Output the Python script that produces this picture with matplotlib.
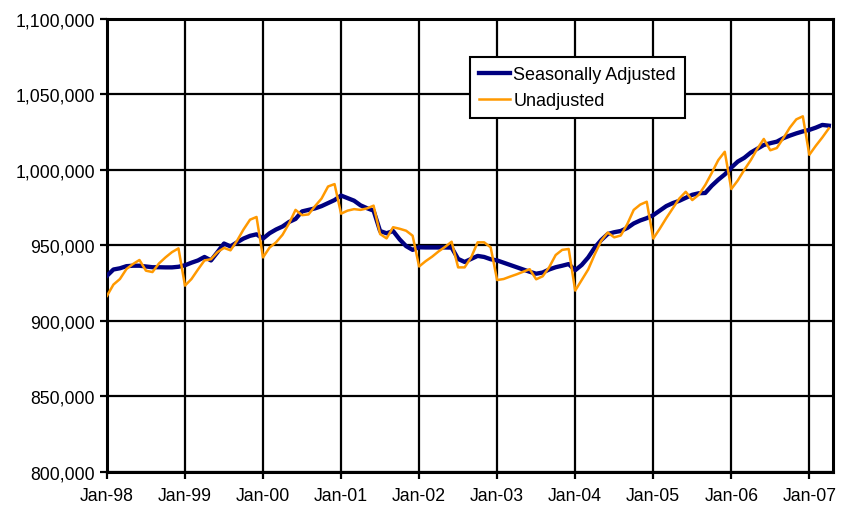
import numpy as np
import pandas as pd
import matplotlib
matplotlib.use('Agg')
import matplotlib.pyplot as plt
from matplotlib.ticker import FuncFormatter

plt.rcParams['font.family'] = ['Liberation Sans', 'DejaVu Sans']

# monthly values, Jan-98 .. Apr-07 (thousands)
seasonally_adjusted = [
    929.8, 934.0, 934.8, 936.2, 936.5, 936.5, 936.0, 935.5, 935.5, 935.4, 935.4, 935.8,
    936.8, 938.5, 940.0, 942.3, 940.0, 945.5, 951.2, 949.3, 952.0, 954.5, 956.3, 957.3,
    954.5, 958.0, 960.5, 962.5, 965.5, 967.5, 972.5, 973.5, 974.5, 976.0, 978.0, 980.0,
    983.0, 981.3, 979.6, 976.5, 974.6, 973.0, 959.5, 958.0, 959.5, 954.0, 949.5, 947.0,
    948.7, 948.6, 948.6, 948.6, 948.6, 948.5, 941.0, 939.0, 941.0, 943.0, 942.3, 940.8,
    940.0, 938.5, 937.0, 935.5, 934.0, 932.5, 931.2, 932.0, 934.0, 935.5, 936.5, 937.6,
    933.5, 937.0, 942.0, 948.5, 953.5, 957.5, 958.7, 959.5, 961.5, 964.5, 966.5, 968.0,
    970.0, 973.0, 976.0, 978.0, 979.5, 981.5, 983.5, 984.5, 984.7, 989.5, 993.5, 997.0,
    1001.5, 1005.5, 1008.0, 1011.5, 1014.0, 1016.5, 1017.7, 1018.7, 1021.0, 1022.7, 1024.2, 1025.5,
    1026.5, 1028.0, 1029.8, 1029.3,
]
unadjusted = [
    916.5, 924.0, 927.7, 934.3, 937.6, 940.3, 933.2, 932.3, 938.0, 942.0, 945.5, 948.0,
    923.3, 927.7, 934.0, 940.0, 940.8, 945.5, 948.3, 946.7, 953.0, 960.5, 967.0, 968.8,
    942.0, 948.5, 952.0, 957.0, 964.5, 973.5, 970.0, 970.5, 976.0, 981.0, 989.0, 990.6,
    971.0, 973.0, 974.0, 973.5, 974.5, 976.3, 957.5, 954.6, 962.0, 961.0, 959.7, 956.4,
    936.0, 939.5, 942.5, 946.0, 949.0, 952.4, 935.4, 935.4, 942.0, 952.0, 952.0, 948.7,
    927.0, 927.7, 929.3, 930.8, 932.5, 934.2, 927.5, 929.5, 935.5, 943.6, 947.0, 947.6,
    920.0, 927.0, 934.0, 944.0, 953.0, 958.5, 955.3, 956.5, 964.0, 973.5, 977.0, 978.9,
    954.5, 961.0, 968.0, 974.5, 981.0, 985.5, 980.0, 983.5, 990.0, 998.0, 1006.5, 1012.0,
    987.3, 993.0, 1000.0, 1006.5, 1014.0, 1020.5, 1013.0, 1014.5, 1021.0, 1028.0, 1033.5, 1035.5,
    1010.0, 1016.0, 1021.5, 1027.5,
]
months = pd.date_range('1998-01-01', periods=len(unadjusted), freq='MS')
tick_months = months[months.month == 1]

sa = np.array(seasonally_adjusted) * 1000
ua = np.array(unadjusted) * 1000
x = np.arange(len(months))

fig = plt.figure(figsize=(8.42, 5.06), dpi=100)
ax = fig.add_axes([0.127, 0.0658, 0.862, 0.8947])

ax.plot(x, sa, color='#000080', linewidth=3.1, label='Seasonally Adjusted', zorder=3)
ax.plot(x, ua, color='#FF9900', linewidth=1.8, label='Unadjusted', zorder=4)

ax.set_ylim(800000, 1100000)
ax.set_yticks(np.arange(800000, 1100001, 50000))
ax.yaxis.set_major_formatter(FuncFormatter(lambda v, p: f'{v:,.0f}'))

tick_pos = [list(months).index(m) for m in tick_months]
ax.set_xticks(tick_pos)
ax.set_xticklabels([m.strftime('%b-%y') for m in tick_months])
ax.set_xlim(0, len(months) - 0.4)

ax.grid(True, color='black', linewidth=1.6)
ax.set_axisbelow(True)
for s in ax.spines.values():
    s.set_linewidth(2.2)
ax.tick_params(axis='both', direction='out', length=5, width=1.6, labelsize=12.7)
ax.tick_params(axis='x', pad=6)

leg = ax.legend(loc='upper left', bbox_to_anchor=(0.5, 0.916), borderaxespad=0,
                fontsize=13, frameon=True, fancybox=False, handlelength=1.7,
                handletextpad=0.2, borderpad=0.5, labelspacing=0.5)
leg.get_frame().set_edgecolor('black')
leg.get_frame().set_linewidth(1.5)
leg.get_frame().set_alpha(1)

fig.savefig('out.png', dpi=100)
